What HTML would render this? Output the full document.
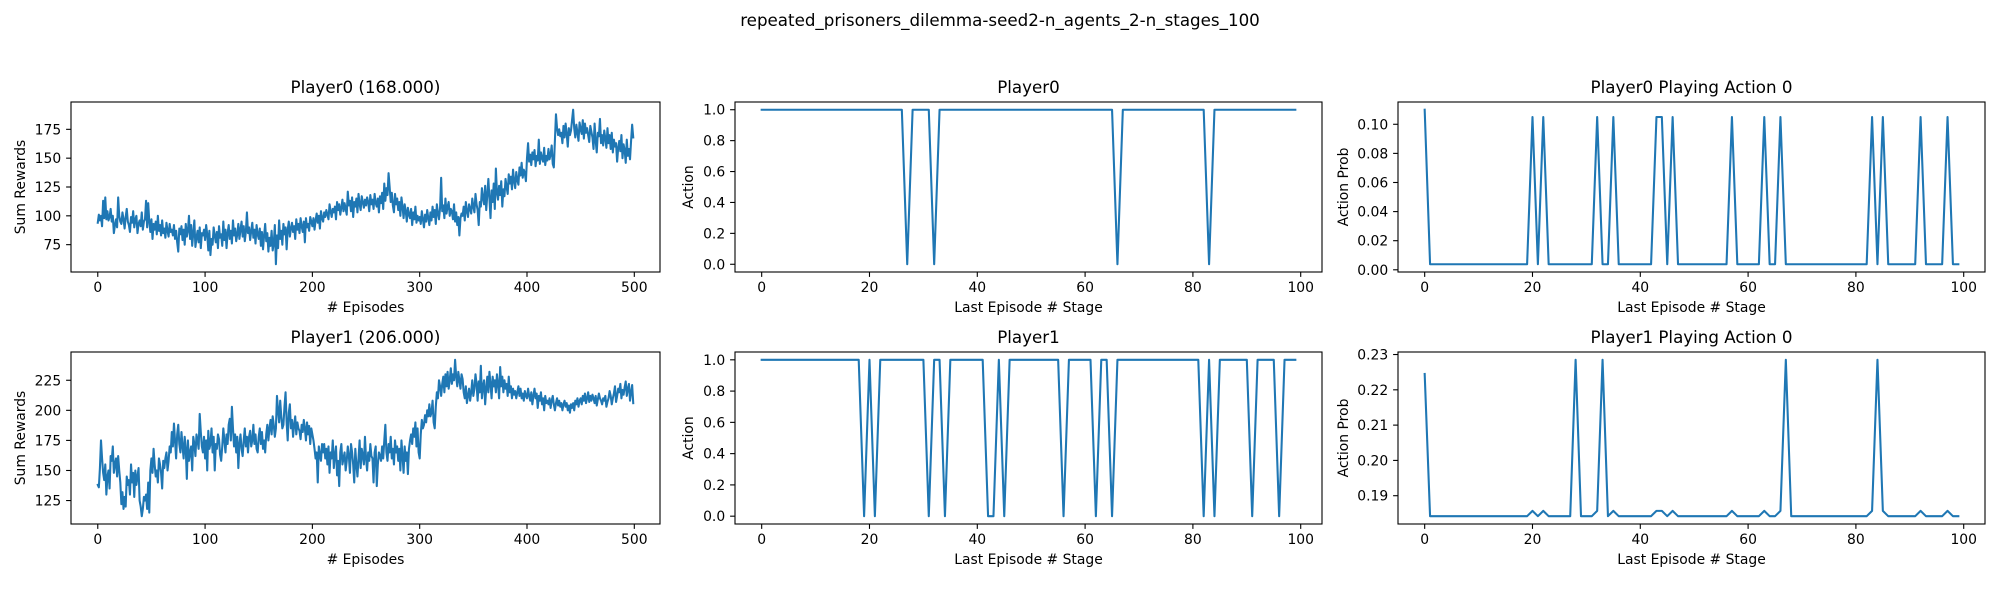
<!DOCTYPE html>
<html><head><meta charset="utf-8">
<style>
html,body{margin:0;padding:0;background:#fff;}
svg{display:block;}
text{font-family:"DejaVu Sans","Liberation Sans",sans-serif;fill:#000;}
</style></head>
<body>
<svg id="fig" width="2000" height="600" viewBox="0 0 2000 600" xmlns="http://www.w3.org/2000/svg">
<rect width="2000" height="600" fill="#fff"/>
<text x="1000" y="26" text-anchor="middle" font-size="16.7">repeated_prisoners_dilemma-seed2-n_agents_2-n_stages_100</text>
</svg>
<script>
// ---- data ----
const p0Rewards = [94,101,96,100,91,113,98,116,97,104,96,99,106,95,100,85,92,97,90,116,100,95,93,103,97,89,99,106,95,92,86,99,94,104,90,97,100,85,93,96,91,103,88,95,97,113,90,111,95,86,97,80,93,88,95,84,100,87,92,83,96,85,89,81,94,87,82,93,86,88,83,92,80,87,77,69,89,84,91,79,88,75,93,82,87,100,80,92,74,85,96,73,81,87,77,90,72,85,83,88,79,92,84,70,87,66,80,75,90,83,77,86,72,91,81,84,74,95,79,88,72,85,92,80,87,76,96,83,89,78,84,93,80,88,95,82,91,78,86,103,85,90,79,87,94,81,88,76,92,84,80,89,74,86,71,83,93,78,85,69,81,74,87,70,76,92,58,83,72,96,80,87,75,93,84,90,71,88,95,82,89,94,86,91,80,97,88,93,85,98,91,86,95,77,98,90,93,87,99,95,91,98,88,96,102,94,100,89,104,98,95,103,99,105,101,97,110,104,99,106,103,108,97,112,105,110,101,107,114,104,111,106,101,121,109,113,104,116,99,112,108,115,103,119,110,105,117,112,107,114,109,116,112,104,118,110,114,106,119,111,108,115,103,117,111,120,106,128,113,124,118,137,125,112,120,109,103,119,110,115,105,112,100,116,108,98,110,104,95,107,101,98,106,92,103,97,108,94,100,96,99,93,104,97,90,101,95,105,98,92,103,96,108,99,105,93,110,102,97,107,133,104,109,98,115,102,108,112,100,106,104,97,110,95,103,92,99,83,98,102,100,108,96,112,104,99,110,106,102,115,108,103,119,110,105,92,112,108,124,115,110,126,105,118,132,115,98,122,112,128,106,141,120,114,126,118,130,108,123,117,132,125,119,136,128,134,123,140,130,124,138,131,127,142,135,146,133,140,137,130,150,163,147,153,144,155,149,157,143,152,148,166,145,155,150,147,159,144,152,148,158,149,153,161,145,142,165,188,176,170,175,169,172,163,178,168,180,171,160,176,170,174,183,192,176,168,179,172,165,181,175,171,183,167,180,172,176,170,164,178,173,168,158,180,165,155,172,169,184,163,170,161,174,167,159,176,163,170,158,172,155,166,160,163,147,159,165,156,170,150,162,157,146,166,152,158,149,165,179,168];
const p1Rewards = [138,136,152,175,160,148,142,155,130,145,150,135,162,158,170,148,155,160,145,162,150,140,122,132,118,128,120,145,138,142,130,155,140,148,128,150,138,145,152,125,120,112,118,128,125,130,118,140,115,150,160,148,168,155,145,150,140,160,155,148,135,158,152,160,165,150,158,170,165,182,170,189,175,160,180,188,172,165,182,170,160,178,168,143,175,158,165,170,150,178,172,162,180,175,168,197,182,170,165,178,160,175,150,183,168,172,185,165,178,150,172,168,180,176,163,158,170,185,175,165,180,172,188,193,175,203,185,170,180,165,178,152,172,180,168,162,175,185,170,178,165,178,183,170,175,188,172,180,168,165,178,185,172,182,168,175,165,180,188,175,185,192,180,195,188,178,185,212,200,190,208,195,185,188,203,215,190,175,198,205,185,192,178,188,195,180,190,185,183,176,188,182,192,185,175,190,180,187,172,185,180,175,168,160,165,140,170,163,158,172,165,172,160,168,155,170,148,165,160,175,152,163,170,146,158,137,165,172,155,160,165,150,158,170,162,148,172,165,155,140,168,155,145,160,175,152,168,162,155,178,160,150,165,158,172,162,160,140,165,170,137,155,165,162,158,170,160,175,188,165,158,172,165,178,160,168,155,175,165,170,158,168,150,175,162,148,170,158,165,147,168,175,180,172,185,178,190,170,185,165,160,180,192,185,188,196,190,200,195,205,195,198,208,190,185,203,215,210,225,220,212,222,228,215,230,220,232,218,225,235,222,230,225,242,228,220,232,225,218,230,226,215,210,220,206,212,218,208,215,225,212,218,230,222,208,224,215,237,210,220,225,205,218,228,215,232,222,210,228,220,225,215,230,222,210,236,220,228,215,225,218,222,212,228,215,220,210,218,213,216,210,215,220,212,218,210,214,208,216,212,210,218,212,208,215,205,212,218,210,214,202,212,208,215,205,210,200,212,206,208,205,210,202,208,212,205,200,206,210,204,208,203,206,200,205,208,203,206,200,204,198,205,202,206,200,208,205,210,203,208,210,205,212,208,214,206,210,215,207,212,208,213,210,206,212,204,209,214,210,208,205,210,208,212,203,207,210,216,212,205,210,214,220,207,212,218,215,222,210,217,213,219,224,212,218,222,208,215,221,206];
const p0ActionZeros = [27,32,66,83];
const p1ActionZeros = [19,21,31,34,42,43,45,56,62,65,82,84,91,96];
const p0ProbBase = 0.0038, p0ProbFirst = 0.110, p0ProbPeak = 0.105;
const p0ProbPeaks = [20,22,32,35,43,44,46,57,63,66,83,85,92,97];
const p1ProbBase = 0.1842, p1ProbFirst = 0.2245, p1ProbPeak = 0.2285, p1ProbBump = 0.1857;
const p1ProbPeaks = [28,33,67,84];
const p1ProbBumps = [20,22,32,35,43,44,46,57,63,66,83,85,92,97];
const rewardTicksX = [0,100,200,300,400,500];
const stageTicksX = [0,20,40,60,80,100];
const p0RewardTicksY = [75,100,125,150,175];
const p1RewardTicksY = [125,150,175,200,225];
const actionTicksY = [0,0.2,0.4,0.6,0.8,1.0];
const p0ProbTicksY = [0,0.02,0.04,0.06,0.08,0.10];
const p1ProbTicksY = [0.19,0.20,0.21,0.22,0.23];

const stages = Array.from({length:100},(_,i)=>i);
const p0Action = stages.map(i=>p0ActionZeros.includes(i)?0:1);
const p1Action = stages.map(i=>p1ActionZeros.includes(i)?0:1);
const p0Prob = stages.map(i=>i===0?p0ProbFirst:(p0ProbPeaks.includes(i)?p0ProbPeak:p0ProbBase));
const p1Prob = stages.map(i=>i===0?p1ProbFirst:(p1ProbPeaks.includes(i)?p1ProbPeak:(p1ProbBumps.includes(i)?p1ProbBump:p1ProbBase)));
const episodes = Array.from({length:500},(_,i)=>i);

const NS="http://www.w3.org/2000/svg";
const fig=document.getElementById('fig');
function el(tag,attrs,parent){const e=document.createElementNS(NS,tag);for(const k in attrs)e.setAttribute(k,attrs[k]);(parent||fig).appendChild(e);return e;}

function panel(o){
  const g=el('g',{});
  
  
  const xs=o.xs, ys=o.ys;
  const xmin=Math.min(...xs), xmax=Math.max(...xs);
  const ymin=Math.min(...ys), ymax=Math.max(...ys);
  const xr=xmax-xmin, yr=ymax-ymin;
  const x0=xmin-0.05*xr, x1=xmax+0.05*xr, y0=ymin-0.05*yr, y1=ymax+0.05*yr;
  const L=o.L,R=o.R,T=o.T,B=o.B;
  const sx=v=>L+(v-x0)/(x1-x0)*(R-L);
  const sy=v=>B-(v-y0)/(y1-y0)*(B-T);
  let d='';
  xs.forEach((x,i)=>{d+=(i?'L':'M')+sx(x).toFixed(2)+' '+sy(ys[i]).toFixed(2);});
  const ln=el('path',{d:d,fill:'none',stroke:'#1f77b4','stroke-width':2.08,'stroke-linejoin':'round','stroke-linecap':'square'},g);
  
  
  const fr=el('rect',{x:L,y:T,width:R-L,height:B-T,fill:'none',stroke:'#000','stroke-width':1.1},g);
  
  
  o.xt.forEach(v=>{
    const x=sx(v);
    el('line',{x1:x,x2:x,y1:B,y2:B+4.9,stroke:'#000','stroke-width':1.1},g);
    const t=el('text',{x:x,y:B+20,'text-anchor':'middle','font-size':13.9},g);
    t.textContent=String(v);
    
    
  });
  o.yt.forEach(v=>{
    const y=sy(v);
    el('line',{x1:L-4.9,x2:L,y1:y,y2:y,stroke:'#000','stroke-width':1.1},g);
    const t=el('text',{x:L-9.8,y:y+5,'text-anchor':'end','font-size':13.9},g);
    t.textContent=v.toFixed(o.yd);
    
    
  });
  const tt=el('text',{x:(L+R)/2,y:T-9,'text-anchor':'middle','font-size':16.7},g);
  tt.textContent=o.title;
  
  
  const xl=el('text',{x:(L+R)/2,y:B+40,'text-anchor':'middle','font-size':13.9},g);
  xl.textContent=o.xlabel;
  
  
  const cy=(T+B)/2;
  const yl=el('text',{x:o.ylx,y:cy,'text-anchor':'middle','font-size':13.9,transform:'rotate(-90 '+o.ylx+' '+cy+')'},g);
  yl.textContent=o.ylabel;
  
  
}
const rows=[{T:102,B:272},{T:352,B:524}];
const cols=[{L:71,R:660,ylx:25},{L:735,R:1322,ylx:693},{L:1398,R:1985,ylx:1348}];
panel({name:'player0-rewards',xs:episodes,ys:p0Rewards,...rows[0],...cols[0],xt:rewardTicksX,yt:p0RewardTicksY,yd:0,title:'Player0 (168.000)',xlabel:'# Episodes',ylabel:'Sum Rewards'});
panel({name:'player1-rewards',xs:episodes,ys:p1Rewards,...rows[1],...cols[0],xt:rewardTicksX,yt:p1RewardTicksY,yd:0,title:'Player1 (206.000)',xlabel:'# Episodes',ylabel:'Sum Rewards'});
panel({name:'player0-action',xs:stages,ys:p0Action,...rows[0],...cols[1],xt:stageTicksX,yt:actionTicksY,yd:1,title:'Player0',xlabel:'Last Episode # Stage',ylabel:'Action'});
panel({name:'player1-action',xs:stages,ys:p1Action,...rows[1],...cols[1],xt:stageTicksX,yt:actionTicksY,yd:1,title:'Player1',xlabel:'Last Episode # Stage',ylabel:'Action'});
panel({name:'player0-action-prob',xs:stages,ys:p0Prob,...rows[0],...cols[2],xt:stageTicksX,yt:p0ProbTicksY,yd:2,title:'Player0 Playing Action 0',xlabel:'Last Episode # Stage',ylabel:'Action Prob'});
panel({name:'player1-action-prob',xs:stages,ys:p1Prob,...rows[1],...cols[2],xt:stageTicksX,yt:p1ProbTicksY,yd:2,title:'Player1 Playing Action 0',xlabel:'Last Episode # Stage',ylabel:'Action Prob'});
</script>
</body></html>
